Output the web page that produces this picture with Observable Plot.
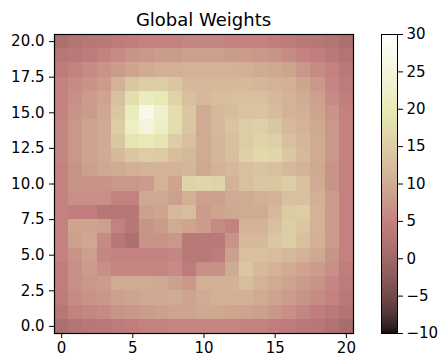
<!DOCTYPE html>
<html>
<head>
<meta charset="utf-8">
<script src="https://cdn.jsdelivr.net/npm/d3@7"></script>
<script src="https://cdn.jsdelivr.net/npm/@observablehq/plot@0.6"></script>
<style>
  html, body { margin: 0; padding: 0; background: #fff; }
  #wrap { position: relative; width: 439px; height: 356px; overflow: hidden; font-family: "DejaVu Sans", sans-serif; }
  #main { position: absolute; left: 0; top: 0; }
  #cbar { position: absolute; left: 370px; top: 0; }
  #title { position: absolute; left: 54px; width: 299px; top: 10.5px; text-align: center; font: 18px/18px "DejaVu Sans", sans-serif; color: #000; }
</style>
</head>
<body>
<div id="wrap"><div id="main"></div><div id="cbar"></div><div id="title"></div></div>
<script>
const chartTitle = "Global Weights";
const xTicks = [0, 5, 10, 15, 20];
const yTicks = [0, 2.5, 5, 7.5, 10, 12.5, 15, 17.5, 20];
const colorTicks = [-10, -5, 0, 5, 10, 15, 20, 25, 30];
const colorDomain = [-10, 30];
const gridX = d3.range(21);
// rows listed from y = 20 (top) down to y = 0 (bottom)
const gridY = d3.range(20, -1, -1);
const weightRows = [
  [1.5,2.5,3,3.5,4,4.5,5,5,5,5.5,5.5,5.5,5,5,5,4.5,4,3.5,3,2.5,1.5],
  [3,3.5,4,5,6,7,7.5,8,8,8.5,8.5,8.5,8,8,7.5,7,6,5,4.5,3.5,2.5],
  [4,5,6,7,8,9,10,10.5,10.5,11,11,11,11,10.5,10,9.5,9,7.5,6,5,3.5],
  [5,6,7,8,11,14,15,15,14,12,12,12,12,12,11.5,11,10.5,9,7.5,5.5,4],
  [5,6.5,8,9,13,18,21,20,16,13,12,12.5,13,13,13,12,11,10,8.5,6,4.5],
  [5,7,8,9.5,14,21,27,23,18,14,10,12,12.5,13.5,13.5,12.5,11,10.5,9,7,5],
  [5.5,7.5,9,10,15,22,25,22,18,14,10,12,13.5,15,15.5,14,12,11,9.5,7.5,5],
  [5.5,7.5,9,10,14,19,20,19,15,13,10,11.5,13,15,16,15.5,13,11.5,10,7.5,5],
  [5.5,7.5,9,10,12,14,15,14.5,12.5,12,10,11.5,13,15.5,17,16.5,14,12,10,7.5,5],
  [5,7,8.5,9.5,10,10.5,11,11,11,11.5,9.5,11,12,13,13.5,13,12,11,9.5,7,5],
  [5,7,7,7,7.5,7.5,8,11,9,16,16.5,16,11,13,14,14,15,13,10,7,5],
  [5,6.5,6.5,6.5,5,5,9.5,9.5,8.5,10.5,8.5,8.5,10,10,10.5,11,13,13,10.5,8,5],
  [5,4.5,4.5,3,3,3,8.5,9,12,12.5,8,9,9.5,10,10,12,14.5,15,11,8,5],
  [5,9,9,8.5,5,3,7,8,10,9,8,6,5,11,11,13,15,14,11,8,5],
  [5,8.5,9.5,6,3,1.5,7,7,7.5,3.5,3.5,3.5,7,12,12,14,15,13,10.5,8,5],
  [5,7,8.5,5.5,5,5,5,5,5.5,3.5,3.5,4,8.5,13,13,12.5,12,11,9.5,7,5],
  [4.5,6.5,8,6.5,5.5,5.5,5.5,5.5,6,4,6.5,6.5,10,14,12,11,10,9,8,6.5,4.5],
  [4.5,6.5,7.5,8,10,10,10,9.5,8.5,7.5,10.5,10.5,11,12.5,11,10,9,8,7,5.5,4],
  [4,6,7,7.5,8.5,9,9.5,9.5,10,9,10,10.5,10.5,10.5,10,9,8,7,6,5,3.5],
  [3,5,5.5,6,7,7.5,8,8.5,9,9,9.5,9.5,9,9,8.5,7.5,6.5,5.5,4.5,3.5,2.5],
  [1.5,2.5,3,3.5,4,4.5,5,5,5.5,5.5,5.5,5.5,5.5,5,5,4.5,4,3.5,3,2,1]
];

// matplotlib "pink" colormap: sqrt((2*gray + hot)/3)
function pink(t) {
  t = Math.max(0, Math.min(1, t));
  const cl = v => Math.max(0, Math.min(1, v));
  const hr = cl(t / 0.365), hg = cl((t - 0.365) / (0.746 - 0.365)), hb = cl((t - 0.746) / (1 - 0.746));
  const r = Math.sqrt((2 * t + hr) / 3), g = Math.sqrt((2 * t + hg) / 3), b = Math.sqrt((2 * t + hb) / 3);
  const rr = Math.max(r, 0.1178 * (1 - t));
  return `rgb(${Math.round(rr * 255)},${Math.round(g * 255)},${Math.round(b * 255)})`;
}

const cells = [];
gridY.forEach((y, ri) => gridX.forEach((x, ci) => cells.push({x, y, v: weightRows[ri][ci]})));

const colorScale = {type: "linear", domain: colorDomain, interpolate: (t) => pink(t)};
const minus = d => d < 0 ? "\u2212" + Math.abs(d) : String(d);
const textStyle = {fontFamily: "DejaVu Sans, sans-serif", fontSize: "15px", color: "#000", background: "transparent", overflow: "visible"};

document.getElementById("title").textContent = chartTitle;

const main = Plot.plot({
  width: 370, height: 356,
  marginLeft: 54, marginRight: 17, marginTop: 34, marginBottom: 23,
  style: textStyle,
  x: {domain: [-0.5, 20.5]},
  y: {domain: [-0.5, 20.5]},
  color: colorScale,
  marks: [
    Plot.rect(cells, {x1: d => d.x - 0.5, x2: d => d.x + 0.5, y1: d => d.y - 0.5, y2: d => d.y + 0.5, fill: "v", shapeRendering: "crispEdges"}),
    Plot.frame({stroke: "#000", strokeWidth: 1.2}),
    Plot.axisX({ticks: xTicks, tickSize: 5, tickPadding: 4, label: null, tickFormat: d => String(d)}),
    Plot.axisY({ticks: yTicks, tickSize: 5, tickPadding: 5, label: null, tickFormat: d => d.toFixed(1)})
  ]
});
document.getElementById("main").appendChild(main);

const cbar = Plot.plot({
  width: 69, height: 356,
  marginLeft: 11, marginRight: 42, marginTop: 34, marginBottom: 23,
  style: textStyle,
  x: {domain: [0, 1], axis: null},
  y: {domain: colorDomain},
  color: colorScale,
  marks: [
    Plot.raster({fill: (x, y) => y, x1: 0, x2: 1, y1: colorDomain[0], y2: colorDomain[1], width: 1, height: 300}),
    Plot.frame({stroke: "#000", strokeWidth: 1}),
    Plot.axisY({anchor: "right", ticks: colorTicks, tickSize: 5, tickPadding: 4, label: null, tickFormat: minus})
  ]
});
document.getElementById("cbar").appendChild(cbar);
</script>
</body>
</html>
